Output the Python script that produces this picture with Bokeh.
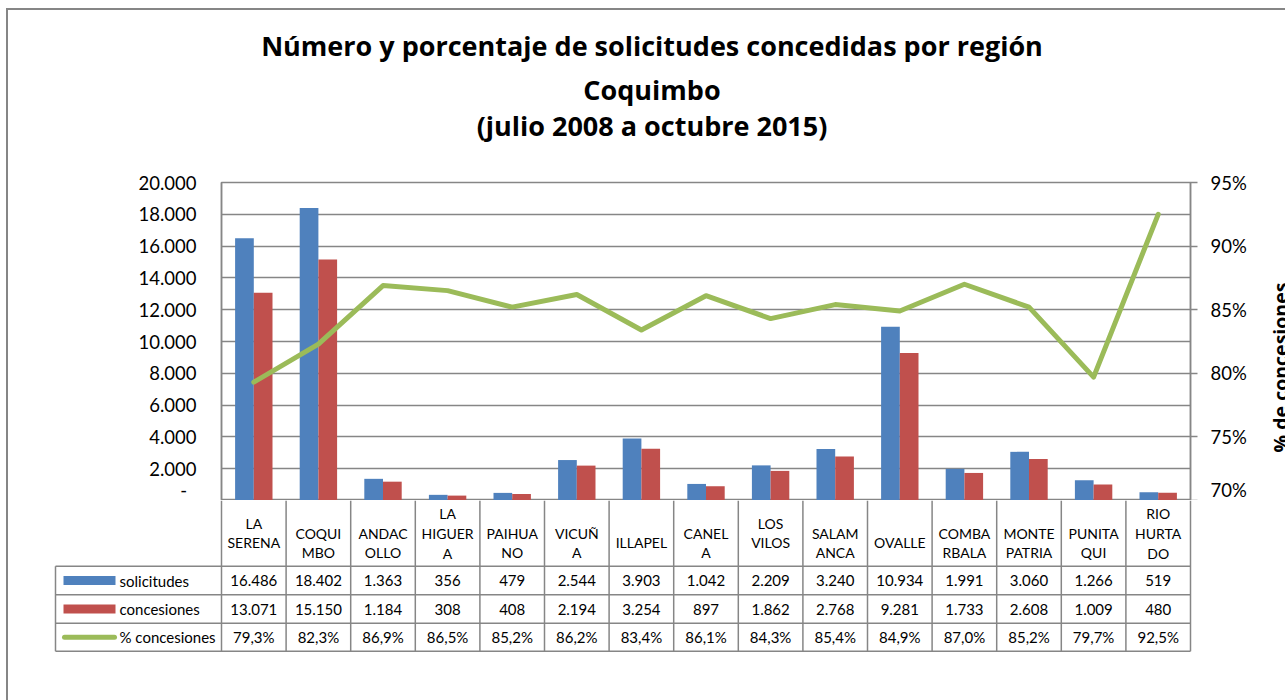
import math
from bokeh.plotting import figure
from bokeh.layouts import column, row
from bokeh.models import Range1d, LinearAxis, FixedTicker, ColumnDataSource
from bokeh.transform import dodge
from bokeh.core.properties import value
from bokeh.embed import file_html
from bokeh.resources import INLINE

# ---------------- data ----------------
title_lines = ["Número y porcentaje de solicitudes concedidas por región",
               "Coquimbo",
               "(julio 2008 a octubre 2015)"]
categories = ["LA SERENA", "COQUIMBO", "ANDACOLLO", "LA HIGUERA", "PAIHUANO", "VICUÑA",
              "ILLAPEL", "CANELA", "LOS VILOS", "SALAMANCA", "OVALLE", "COMBARBALA",
              "MONTE PATRIA", "PUNITAQUI", "RIO HURTADO"]
header_labels = ["LA\nSERENA", "COQUI\nMBO", "ANDAC\nOLLO", "LA\nHIGUER\nA", "PAIHUA\nNO",
                 "VICUÑ\nA", "ILLAPEL", "CANEL\nA", "LOS\nVILOS", "SALAM\nANCA", "OVALLE",
                 "COMBA\nRBALA", "MONTE\nPATRIA", "PUNITA\nQUI", "RIO\nHURTA\nDO"]
solicitudes = [16486, 18402, 1363, 356, 479, 2544, 3903, 1042, 2209, 3240, 10934, 1991, 3060, 1266, 519]
concesiones = [13071, 15150, 1184, 308, 408, 2194, 3254, 897, 1862, 2768, 9281, 1733, 2608, 1009, 480]
pct_concesiones = [79.3, 82.3, 86.9, 86.5, 85.2, 86.2, 83.4, 86.1, 84.3, 85.4, 84.9, 87.0, 85.2, 79.7, 92.5]
series_names = ["solicitudes", "concesiones", "% concesiones"]
left_ticks = [0, 2000, 4000, 6000, 8000, 10000, 12000, 14000, 16000, 18000, 20000]
left_tick_labels = ["-\u00a0\u00a0", "2.000", "4.000", "6.000", "8.000", "10.000", "12.000",
                    "14.000", "16.000", "18.000", "20.000"]
right_ticks = [70, 75, 80, 85, 90, 95]
right_tick_labels = ["70%", "75%", "80%", "85%", "90%", "95%"]
right_axis_title = "% de concesiones"

# ---------------- layout / style ----------------
W, H = 1285, 700
OX, OY = 8, 10             # content origin inside the outer chart border
FL, FR, FT, FB = 221, 1190, 182, 500
TOP0 = 160                 # page y where the chart figure starts
SIDE = 1262                # page x where the side (axis title) strip starts
N = len(categories)
UNIT = (FR - FL) / N
TL = 55
HDR_BOT, R1, R2, TB = 565.7, 594.3, 622.7, 650.7
GRID = "#868686"
BLUE, RED, GREEN = "#4F81BD", "#C0504D", "#9BBB59"
FONT = "Lato"
TFONT = "Open Sans"
BW = 18.7 / UNIT
header_y = [532.5, 542.5, 542.5, 533, 542.5, 542.5, 542, 542.5, 532.5, 542.5, 542, 542.5, 542.5, 542.5, 533]


def xd(px):
    return (px - FL) / UNIT


def bare(f):
    f.outline_line_color = None
    f.background_fill_color = "white"
    f.border_fill_color = "white"
    for g in list(f.xgrid) + list(f.ygrid):
        g.visible = False
    return f


def no_align(f):
    try:
        f.frame_align = False
    except Exception:
        pass
    return f


centers = [i + 0.5 for i in range(N)]
src = ColumnDataSource(dict(x=centers, sol=solicitudes, con=concesiones, pct=pct_concesiones))

# ---------------- title strip ----------------
tf = figure(width=W - OX, height=TOP0 - OY, x_range=Range1d(OX, W), y_range=Range1d(TOP0, OY),
            output_backend="svg", toolbar_location=None, title=None, min_border=0,
            x_axis_location=None, y_axis_location=None)
bare(tf)
no_align(tf)
tf.text(x=[651.5] * 3, y=[45, 89, 125], text=title_lines, text_align="center",
        text_baseline="alphabetic", text_font=value(TFONT), text_font_style="bold",
        text_font_size="27px", text_color="black")

# ---------------- main chart ----------------
p = figure(width=SIDE - OX, height=FB - TOP0, x_range=Range1d(0, N), y_range=Range1d(0, 20000),
           output_backend="svg", toolbar_location=None, title=None,
           min_border_left=FL - OX, min_border_right=SIDE - FR, min_border_top=FT - TOP0,
           min_border_bottom=0, x_axis_location=None)
no_align(p)
p.outline_line_color = GRID
p.outline_line_width = 1.5
p.background_fill_color = "white"
p.border_fill_color = "white"
for g in p.xgrid:
    g.visible = False
p.ygrid.ticker = FixedTicker(ticks=left_ticks)
p.ygrid.grid_line_color = GRID
p.ygrid.grid_line_width = 1.5

ya = p.yaxis[0]
ya.ticker = FixedTicker(ticks=left_ticks)
ya.major_label_overrides = dict(zip(left_ticks, left_tick_labels))
ya.axis_line_color = GRID
ya.axis_line_width = 1.5
ya.major_tick_out = 0
ya.major_tick_in = 0
ya.minor_tick_line_color = None
ya.major_label_standoff = 25
ya.major_label_text_font = FONT
ya.major_label_text_font_size = "18.5px"
ya.major_label_text_color = "black"

p.extra_y_ranges = {"pct": Range1d(70, 95)}
ra = LinearAxis(y_range_name="pct", ticker=FixedTicker(ticks=right_ticks),
                major_label_overrides=dict(zip(right_ticks, right_tick_labels)))
ra.axis_line_color = GRID
ra.axis_line_width = 1.5
ra.major_tick_line_color = GRID
ra.major_tick_line_width = 1.5
ra.major_tick_out = 7
ra.major_tick_in = 0
ra.minor_tick_line_color = None
ra.major_label_standoff = 13
ra.major_label_text_font = FONT
ra.major_label_text_font_size = "18.5px"
ra.major_label_text_color = "black"
p.add_layout(ra, "right")

p.vbar(x=dodge("x", -BW / 2, range=p.x_range), top="sol", width=BW, source=src,
       fill_color=BLUE, line_color=None)
p.vbar(x=dodge("x", BW / 2, range=p.x_range), top="con", width=BW, source=src,
       fill_color=RED, line_color=None)
p.line(x="x", y="pct", source=src, y_range_name="pct", line_color=GREEN, line_width=5,
       line_join="round", line_cap="round")

# ---------------- right-axis title strip ----------------
sf = figure(width=W - SIDE, height=FB - TOP0, x_range=Range1d(SIDE, W), y_range=Range1d(FB, TOP0),
            output_backend="svg", toolbar_location=None, title=None, min_border=0,
            x_axis_location=None, y_axis_location=None)
bare(sf)
no_align(sf)
sf.text(x=[1280], y=[367], text=[right_axis_title], angle=math.pi / 2,
        text_align="center", text_baseline="alphabetic", text_font=value(TFONT),
        text_font_style="bold", text_font_size="19.5px", text_color="black")

# ---------------- data table ----------------
EXT = 3 / UNIT
t = figure(width=W - OX, height=H - FB, x_range=Range1d(xd(TL) - EXT, N + EXT),
           y_range=Range1d(H, FB), output_backend="svg", toolbar_location=None, title=None,
           min_border_left=TL - OX - 3, min_border_right=W - FR - 3, min_border_top=0,
           min_border_bottom=0, x_axis_location=None, y_axis_location=None)
bare(t)
no_align(t)

hy = [HDR_BOT, R1, R2, TB]
t.segment(x0=[xd(TL)] * 4, x1=[N] * 4, y0=hy, y1=hy, line_color=GRID, line_width=1.5)
vx = list(range(N + 1))
t.segment(x0=vx, x1=vx, y0=[FB] * (N + 1), y1=[TB] * (N + 1), line_color=GRID, line_width=1.5)
t.segment(x0=[xd(TL)], x1=[xd(TL)], y0=[HDR_BOT], y1=[TB], line_color=GRID, line_width=1.5)

t.text(x=centers, y=header_y, text=header_labels, text_align="center", text_baseline="middle",
       text_font=value(FONT), text_font_size="14px", text_line_height=1.15, text_color="black")


def fmt_int(v):
    return f"{v:,}".replace(",", ".")


def fmt_pct(v):
    return f"{v:.1f}%".replace(".", ",")


row_y = [(HDR_BOT + R1) / 2, (R1 + R2) / 2, (R2 + TB) / 2]
row_text = [[fmt_int(v) for v in solicitudes], [fmt_int(v) for v in concesiones],
            [fmt_pct(v) for v in pct_concesiones]]
for yy, texts in zip(row_y, row_text):
    t.text(x=centers, y=[yy] * N, text=texts, text_align="center", text_baseline="middle",
           text_font=value(FONT), text_font_size="15px", text_color="black")

# legend keys
t.quad(left=[xd(63)], right=[xd(115)], top=[row_y[0] - 4.5], bottom=[row_y[0] + 4.5],
       fill_color=BLUE, line_color=None)
t.quad(left=[xd(63)], right=[xd(115)], top=[row_y[1] - 4.5], bottom=[row_y[1] + 4.5],
       fill_color=RED, line_color=None)
t.line(x=[xd(64), xd(114)], y=[row_y[2], row_y[2]], line_color=GREEN, line_width=5,
       line_cap="round")
t.text(x=[xd(119)] * 3, y=row_y, text=series_names, text_align="left", text_baseline="middle",
       text_font=value(FONT), text_font_size="15px", text_color="black")

layout = column(tf, row(p, sf, spacing=0), t, spacing=0,
                styles={"margin-left": "6px", "margin-top": "8px",
                        "border-left": "2px solid #868686", "border-top": "2px solid #868686"})

open("out.html", "w").write(file_html(layout, INLINE))
